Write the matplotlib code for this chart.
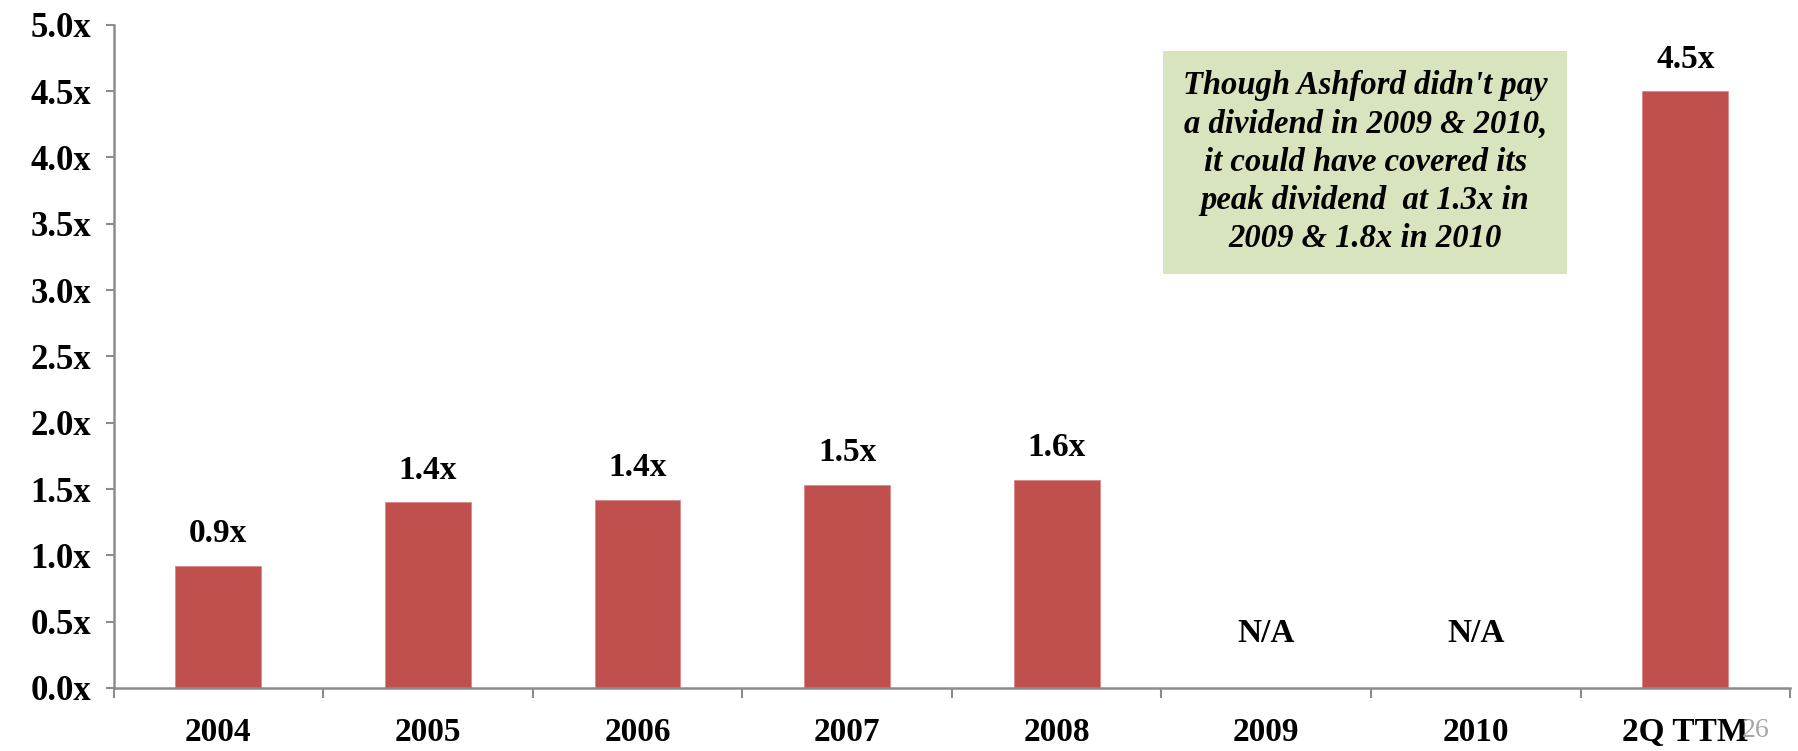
import numpy as np
import matplotlib.pyplot as plt

# dividend coverage by year
categories = ['2004', '2005', '2006', '2007', '2008', '2009', '2010', '2Q TTM']
coverage = [0.92, 1.40, 1.42, 1.53, 1.57, np.nan, np.nan, 4.50]
bar_labels = ['0.9x', '1.4x', '1.4x', '1.5x', '1.6x', 'N/A', 'N/A', '4.5x']
y_ticks = [0.0, 0.5, 1.0, 1.5, 2.0, 2.5, 3.0, 3.5, 4.0, 4.5, 5.0]

note = ("Though Ashford didn't pay\n"
        "a dividend in 2009 & 2010,\n"
        "it could have covered its\n"
        "peak dividend  at 1.3x in\n"
        "2009 & 1.8x in 2010")

plt.rcParams['font.family'] = ['Liberation Serif', 'DejaVu Serif']

fig = plt.figure(figsize=(17.99, 7.51), dpi=100)
ax = fig.add_axes([0.0631, 0.0839, 0.932, 0.883])

x = np.arange(len(categories))
vals = np.nan_to_num(np.array(coverage, dtype=float))
ax.bar(x, vals, width=0.41, color='#C0504D', edgecolor='#D98A88', linewidth=0.6, zorder=2)

for xi, v, lab in zip(x, coverage, bar_labels):
    if np.isnan(v):
        ax.text(xi, 0.41, lab, ha='center', va='center', fontsize=24, fontweight='bold')
    else:
        ax.annotate(lab, (xi, v), xytext=(0, 12), textcoords='offset points',
                    ha='center', va='bottom', fontsize=24, fontweight='bold')

ax.set_xlim(-0.5, len(categories) - 0.5)
ax.set_ylim(0, 5.0)

ax.set_yticks(y_ticks)
ax.set_yticklabels([f'{t:.1f}x' for t in y_ticks], fontsize=25, fontweight='bold')
ax.tick_params(axis='y', direction='out', length=6, width=1.5, color='#8C8C8C', pad=10)

ax.set_xticks(x)
ax.set_xticklabels(categories, fontsize=24, fontweight='bold')
ax.set_xticks(np.arange(len(categories) + 1) - 0.5, minor=True)
ax.tick_params(axis='x', which='major', length=0, pad=21)
ax.tick_params(axis='x', which='minor', direction='out', length=7, width=1.5, color='#8C8C8C')

for s in ['top', 'right']:
    ax.spines[s].set_visible(False)
for s in ['left', 'bottom']:
    ax.spines[s].set_color('#8C8C8C')
    ax.spines[s].set_linewidth(1.8)

ax.text(0.7465, 0.793, note, transform=ax.transAxes, ha='center', va='center',
        fontsize=23.5, fontweight='bold', fontstyle='italic', linespacing=1.3,
        bbox=dict(boxstyle='square,pad=0.6', facecolor='#D7E4BD', edgecolor='none'),
        zorder=3)

fig.text(0.976, 0.027, '26', ha='center', va='center', fontsize=20, color='#A6A6A6')

fig.savefig('out.png', dpi=100)
